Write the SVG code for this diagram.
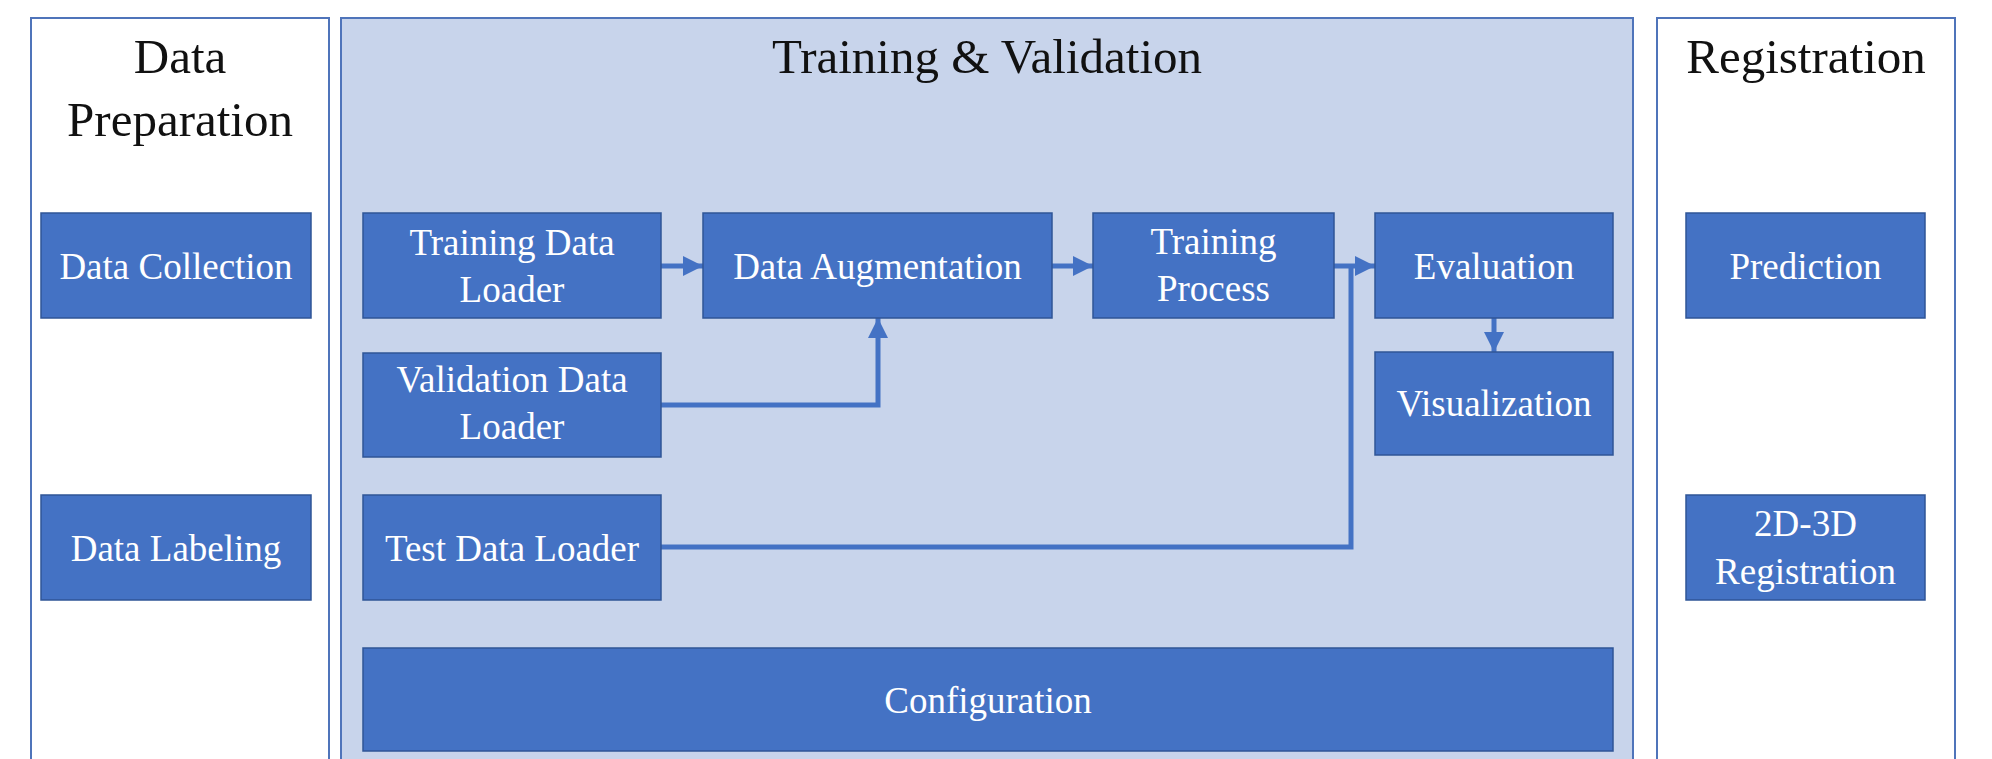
<svg xmlns="http://www.w3.org/2000/svg" width="1992" height="759" viewBox="0 0 1992 759">
<style>
.panel{stroke:#4F74BA;stroke-width:2}
.box{fill:#4472C4;stroke:#2F5597;stroke-width:1.5}
.title{font-family:"Liberation Serif",serif;font-size:49px;fill:#111;text-anchor:middle}
.lbl{font-family:"Liberation Serif",serif;font-size:37px;fill:#FFFFFF;text-anchor:middle}
.con{fill:none;stroke:#4472C4;stroke-width:5}
</style>
<defs>
<marker id="ah" markerUnits="userSpaceOnUse" markerWidth="20" markerHeight="20" refX="20" refY="10" orient="auto">
<path d="M0,0 L20,10 L0,20 Z" fill="#4472C4"/>
</marker>
</defs>
<rect width="1992" height="759" fill="#FFFFFF"/>
<g id="panel-data-preparation">
<rect class="panel" x="31" y="18" width="298" height="760" fill="#FFFFFF"/>
<text class="title" x="180" y="73">Data</text>
<text class="title" x="180" y="136">Preparation</text>
</g>
<g id="panel-training-validation">
<rect class="panel" x="341" y="18" width="1292" height="760" fill="#C8D4EB"/>
<text class="title" x="987" y="73">Training &amp; Validation</text>
</g>
<g id="panel-registration">
<rect class="panel" x="1657" y="18" width="298" height="760" fill="#FFFFFF"/>
<text class="title" x="1806" y="73">Registration</text>
</g>
<g id="connectors">
<path class="con" d="M661,266 H703" marker-end="url(#ah)"/>
<path class="con" d="M1052,266 H1093" marker-end="url(#ah)"/>
<path class="con" d="M661,405 H878 V318" marker-end="url(#ah)"/>
<path class="con" d="M1334,266 H1375" marker-end="url(#ah)"/>
<path class="con" d="M661,547 H1351 V264"/>
<path class="con" d="M1494,318 V352" marker-end="url(#ah)"/>
</g>
<g id="data-collection">
<rect class="box" x="41" y="213" width="270" height="105"/>
<text class="lbl" x="176" y="279">Data Collection</text>
</g>
<g id="data-labeling">
<rect class="box" x="41" y="495" width="270" height="105"/>
<text class="lbl" x="176" y="561">Data Labeling</text>
</g>
<g id="training-data-loader">
<rect class="box" x="363" y="213" width="298" height="105"/>
<text class="lbl" x="512" y="255">Training Data</text>
<text class="lbl" x="512" y="302">Loader</text>
</g>
<g id="validation-data-loader">
<rect class="box" x="363" y="353" width="298" height="104"/>
<text class="lbl" x="512" y="392">Validation Data</text>
<text class="lbl" x="512" y="439">Loader</text>
</g>
<g id="test-data-loader">
<rect class="box" x="363" y="495" width="298" height="105"/>
<text class="lbl" x="512" y="561">Test Data Loader</text>
</g>
<g id="data-augmentation">
<rect class="box" x="703" y="213" width="349" height="105"/>
<text class="lbl" x="877.5" y="279">Data Augmentation</text>
</g>
<g id="training-process">
<rect class="box" x="1093" y="213" width="241" height="105"/>
<text class="lbl" x="1213.5" y="254">Training</text>
<text class="lbl" x="1213.5" y="301">Process</text>
</g>
<g id="evaluation">
<rect class="box" x="1375" y="213" width="238" height="105"/>
<text class="lbl" x="1494" y="279">Evaluation</text>
</g>
<g id="visualization">
<rect class="box" x="1375" y="352" width="238" height="103"/>
<text class="lbl" x="1494" y="416">Visualization</text>
</g>
<g id="configuration">
<rect class="box" x="363" y="648" width="1250" height="103"/>
<text class="lbl" x="988" y="713">Configuration</text>
</g>
<g id="prediction">
<rect class="box" x="1686" y="213" width="239" height="105"/>
<text class="lbl" x="1805.5" y="279">Prediction</text>
</g>
<g id="registration-2d-3d">
<rect class="box" x="1686" y="495" width="239" height="105"/>
<text class="lbl" x="1805.5" y="536">2D-3D</text>
<text class="lbl" x="1805.5" y="584">Registration</text>
</g>
</svg>
